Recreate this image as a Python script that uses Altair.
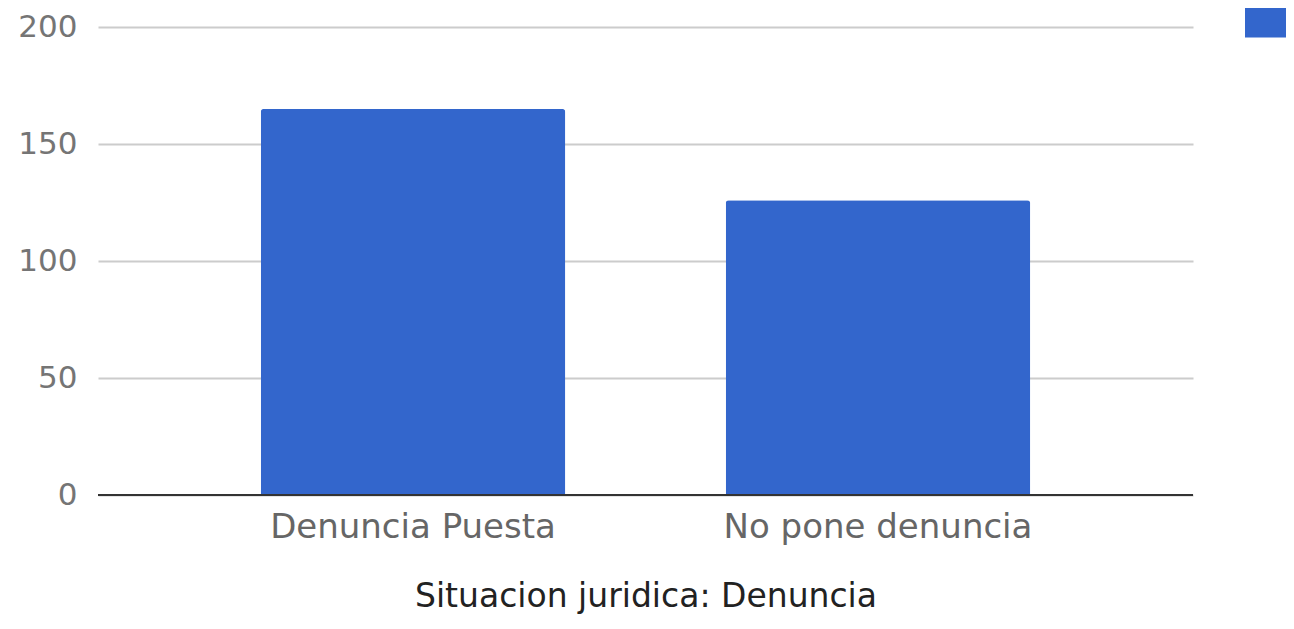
import altair as alt
import pandas as pd

categories = ["Denuncia Puesta", "No pone denuncia"]
values = [165, 126]
series = ["", ""]
y_ticks = [0, 50, 100, 150, 200]

df = pd.DataFrame({"cat": categories, "val": values, "serie": series})

FONT = "DejaVu Sans"

chart = alt.Chart(df).mark_bar(
    cornerRadiusTopLeft=3, cornerRadiusTopRight=3
).encode(
    x=alt.X("cat:N", sort=categories,
            scale=alt.Scale(paddingInner=0.345, paddingOuter=0.35),
            axis=alt.Axis(title="Situacion juridica: Denuncia", labelAngle=0,
                          labelFontSize=34, labelColor="#666666", labelFont=FONT,
                          labelPadding=15, labelLimit=0, ticks=False, domain=False,
                          grid=False,
                          titleFontSize=33, titleColor="#222222", titleFont=FONT,
                          titleFontWeight="normal", titlePadding=36)),
    y=alt.Y("val:Q", scale=alt.Scale(domain=[0, 200], nice=False),
            axis=alt.Axis(title=None, values=y_ticks, labelFontSize=31,
                          labelColor="#757575", labelFont=FONT, labelPadding=21,
                          ticks=False, domain=False, gridColor="#cccccc",
                          gridWidth=2)),
    color=alt.Color("serie:N", scale=alt.Scale(range=["#3366CC"]),
                    legend=alt.Legend(title=None, orient="none", legendX=1147,
                                      legendY=-26, labelFontSize=1, labelOpacity=0,
                                      padding=0, symbolType="M-1,-0.78H1V0.78H-1Z",
                                      symbolSize=1681, symbolStrokeWidth=0,
                                      symbolOpacity=1, labelLimit=1)),
)

zero = alt.Chart(pd.DataFrame({"z": [0]})).mark_rule(color="#333333", strokeWidth=2).encode(
    y="z:Q"
)

final = alt.layer(chart, zero).properties(
    width=1095, height=468,
    autosize=alt.AutoSizeParams(type="none"),
    padding={"left": 90, "top": 19, "right": 93, "bottom": 126},
).configure_view(stroke=None)

final.save("out.html", embed_options={"renderer": "svg", "actions": False})
